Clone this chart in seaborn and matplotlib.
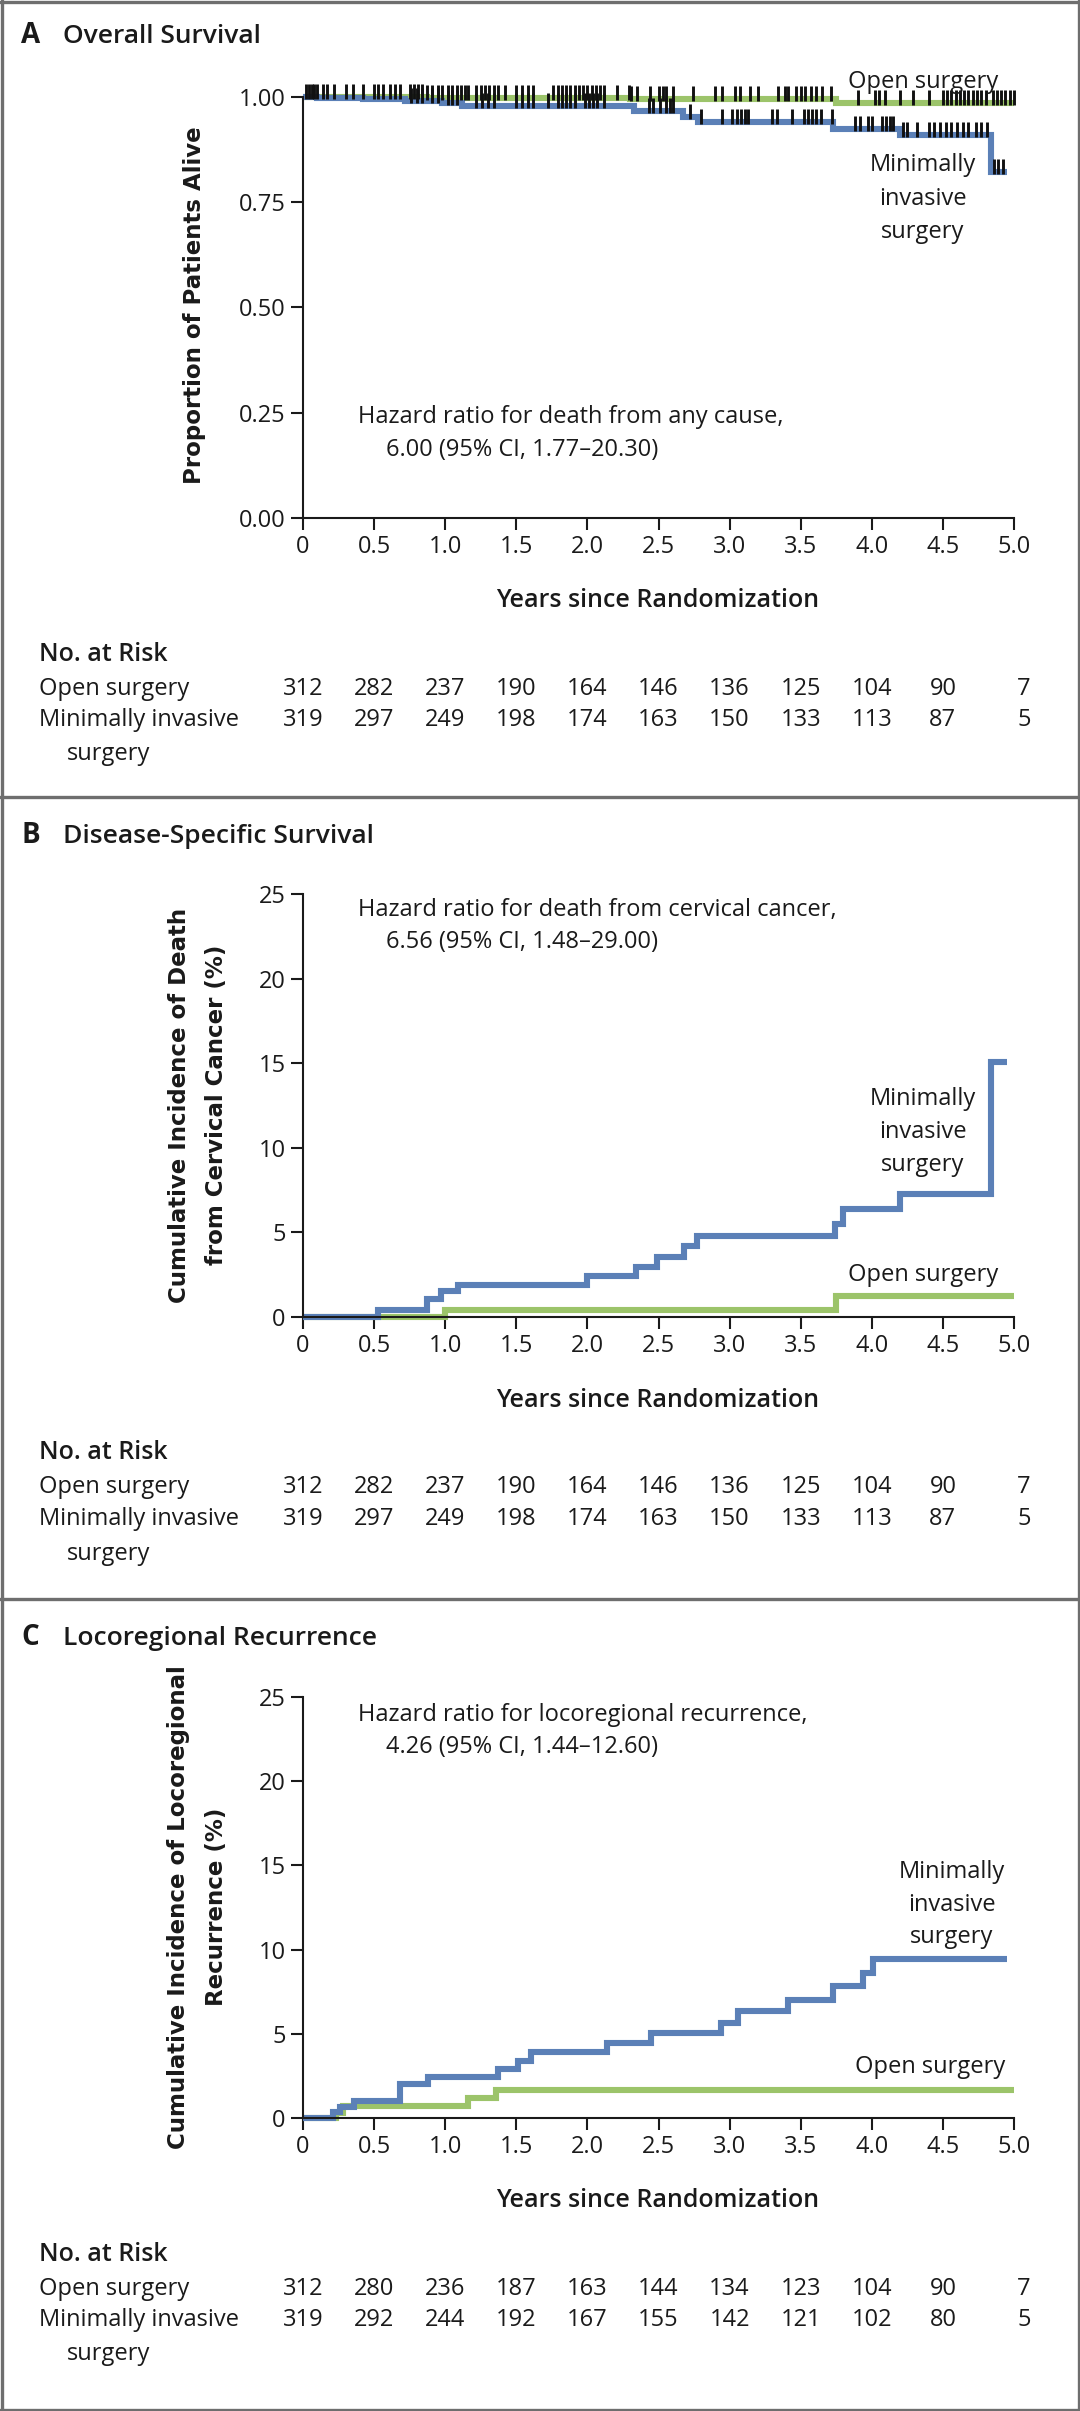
import numpy as np
import matplotlib
matplotlib.use("Agg")
import matplotlib.pyplot as plt
import seaborn as sns
from matplotlib.lines import Line2D

# ---- data ----
years = [0, 0.5, 1.0, 1.5, 2.0, 2.5, 3.0, 3.5, 4.0, 4.5, 5.0]
year_labels = ["0", "0.5", "1.0", "1.5", "2.0", "2.5", "3.0", "3.5", "4.0", "4.5", "5.0"]

# A: overall survival (Kaplan-Meier)
os_open_t = [0, 0.87, 2.30, 3.75, 5.0]
os_open_s = [1.0, 0.998, 0.994, 0.984, 0.984]
os_mis_t = [0, 0.10, 0.42, 0.72, 0.98, 1.12, 2.33, 2.67, 2.78, 3.73, 4.20, 4.84, 4.95]
os_mis_s = [1.0, 0.998, 0.995, 0.990, 0.985, 0.978, 0.966, 0.953, 0.940, 0.923, 0.909, 0.821, 0.821]
os_open_cens = [0.02, 0.04, 0.06, 0.08, 0.10, 0.14, 0.17, 0.22, 0.30, 0.35, 0.42, 0.50, 0.53,
                0.56, 0.61, 0.65, 0.68, 0.75, 0.78, 0.81, 0.84, 0.87, 0.91, 0.95, 0.98, 1.02,
                1.05, 1.08, 1.11, 1.14, 1.16, 1.22, 1.25, 1.28, 1.31, 1.34, 1.37, 1.42, 1.50,
                1.54, 1.58, 1.62, 1.76, 1.79, 1.82, 1.85, 1.88, 1.91, 1.94, 1.97, 2.00, 2.03,
                2.06, 2.09, 2.12, 2.21, 2.29, 2.31, 2.35, 2.44, 2.50, 2.53, 2.55, 2.60, 2.74,
                2.90, 2.95, 3.04, 3.07, 3.14, 3.20, 3.34, 3.39, 3.41, 3.47, 3.50, 3.53, 3.57,
                3.61, 3.65, 3.71, 3.90, 4.02, 4.05, 4.09, 4.20, 4.29, 4.40, 4.50, 4.53, 4.56,
                4.59, 4.62, 4.65, 4.68, 4.71, 4.74, 4.77, 4.80, 4.85, 4.88, 4.91, 4.94, 4.97,
                5.00]
os_mis_cens = [0.76, 0.80, 0.84, 0.91, 0.95, 1.02, 1.05, 1.08, 1.22, 1.26, 1.30, 1.34, 1.50,
               1.54, 1.58, 1.62, 1.72, 1.79, 1.82, 1.85, 1.88, 1.91, 1.98, 2.01, 2.04, 2.07,
               2.12, 2.43, 2.46, 2.51, 2.55, 2.58, 2.60, 2.72, 2.80, 2.95, 3.02, 3.05, 3.08,
               3.11, 3.13, 3.30, 3.33, 3.44, 3.52, 3.55, 3.58, 3.61, 3.64, 3.72, 3.88, 3.92,
               3.97, 4.00, 4.07, 4.10, 4.13, 4.15, 4.22, 4.25, 4.32, 4.40, 4.44, 4.48, 4.52,
               4.56, 4.60, 4.64, 4.68, 4.73, 4.77, 4.81, 4.86, 4.89, 4.92]

# B: cumulative incidence of death from cervical cancer (%)
dss_open_t = [0, 1.00, 3.75, 5.0]
dss_open_y = [0, 0.4, 1.27, 1.27]
dss_mis_t = [0, 0.53, 0.87, 0.97, 1.09, 2.00, 2.34, 2.49, 2.68, 2.77, 3.74, 3.80, 4.20, 4.84, 4.95]
dss_mis_y = [0, 0.4, 1.08, 1.53, 1.92, 2.45, 2.98, 3.57, 4.18, 4.80, 5.50, 6.37, 7.25, 15.1, 15.1]

# C: cumulative incidence of locoregional recurrence (%)
lrr_open_t = [0, 0.23, 0.28, 1.16, 1.36, 5.0]
lrr_open_y = [0, 0.3, 0.69, 1.18, 1.67, 1.67]
lrr_mis_t = [0, 0.21, 0.26, 0.36, 0.68, 0.88, 1.37, 1.51, 1.60, 2.14, 2.45, 2.94, 3.06, 3.41,
             3.73, 3.94, 4.01, 4.95]
lrr_mis_y = [0, 0.33, 0.65, 0.98, 2.02, 2.41, 2.92, 3.41, 3.92, 4.47, 5.04, 5.65, 6.33, 7.02,
             7.84, 8.6, 9.47, 9.47]

# numbers at risk
risk_open_ab = [312, 282, 237, 190, 164, 146, 136, 125, 104, 90, 7]
risk_mis_ab = [319, 297, 249, 198, 174, 163, 150, 133, 113, 87, 5]
risk_open_c = [312, 280, 236, 187, 163, 144, 134, 123, 104, 90, 7]
risk_mis_c = [319, 292, 244, 192, 167, 155, 142, 121, 102, 80, 5]

BLUE = "#5b80b7"
GREEN = "#9cc46a"
INK = "#1a1a1a"
W, H = 1080, 2411

sns.set_theme(style="ticks")
plt.rcParams["font.family"] = ["Open Sans", "DejaVu Sans"]
plt.rcParams["text.color"] = INK

fig = plt.figure(figsize=(W / 100, H / 100), dpi=100)
fig.patch.set_facecolor("white")


def fx(px):
    return px / W


def fy(py):
    return 1 - py / H


def step_at(t, s, times):
    idx = np.searchsorted(np.asarray(t), np.asarray(times), side="right") - 1
    return np.asarray(s)[np.clip(idx, 0, len(s) - 1)]


def make_axes(top_px, bottom_px):
    ax = fig.add_axes([fx(303), fy(bottom_px), fx(1014) - fx(303), (bottom_px - top_px) / H])
    ax.set_facecolor("none")
    sns.despine(ax=ax)
    for sp in ("left", "bottom"):
        ax.spines[sp].set_linewidth(1.5)
        ax.spines[sp].set_color(INK)
    ax.tick_params(direction="out", length=8.5, width=1.5, labelsize=17, pad=4,
                   colors=INK)
    ax.set_xlim(0, 5)
    ax.set_xticks(years)
    ax.set_xticklabels(year_labels)
    ax.set_xlabel("")
    ax.set_ylabel("")
    return ax


def curve(ax, t, y, color):
    sns.lineplot(x=t, y=y, ax=ax, color=color, linewidth=4.4, drawstyle="steps-post",
                 estimator=None, sort=False, clip_on=False, solid_capstyle="butt",
                 solid_joinstyle="miter")


def panel_text(letter, title, top, xlab_y, risk_y, ylab_lines, ylab_y, open_risk, mis_risk):
    fig.text(fx(21), fy(top + 10), letter, fontsize=20, weight="bold", va="baseline")
    fig.text(fx(63), fy(top + 10), title, fontsize=19, weight="semibold", va="baseline")
    fig.text(fx(658), fy(xlab_y + 9), "Years since Randomization", fontsize=18,
             weight="semibold", ha="center", va="baseline")
    if len(ylab_lines) == 1:
        fig.text(fx(195), fy(ylab_y), ylab_lines[0], rotation=90, ha="center", va="center",
                 fontsize=16.5, weight="bold", family="DejaVu Sans")
    else:
        for xx, line in zip((179, 217), ylab_lines):
            fig.text(fx(xx), fy(ylab_y), line, rotation=90, ha="center", va="center",
                     fontsize=16.5, weight="bold", family="DejaVu Sans")
    h, r1, r2, r3 = risk_y
    fig.text(fx(39), fy(h + 9), "No. at Risk", fontsize=18, weight="semibold", va="baseline")
    fig.text(fx(39), fy(r1 + 8), "Open surgery", fontsize=17, va="baseline")
    fig.text(fx(39), fy(r2 + 8), "Minimally invasive", fontsize=17, va="baseline")
    fig.text(fx(67), fy(r3 + 8), "surgery", fontsize=17, va="baseline")
    for i, (yr, a, b) in enumerate(zip(years, open_risk, mis_risk)):
        xpix = 303 + yr * 142.2 + (10 if i == len(years) - 1 else 0)
        fig.text(fx(xpix), fy(r1 + 8), str(a), fontsize=17, ha="center", va="baseline")
        fig.text(fx(xpix), fy(r2 + 8), str(b), fontsize=17, ha="center", va="baseline")


def label_lines(xc, baselines, lines):
    for b, line in zip(baselines, lines):
        fig.text(fx(xc), fy(b), line, fontsize=17, ha="center", va="baseline")


# ---------------- Panel A ----------------
axA = make_axes(96.7, 518)
curve(axA, os_open_t, os_open_s, GREEN)
curve(axA, os_mis_t, os_mis_s, BLUE)
cens_marker = [(0, -0.15), (0, 1.0)]
for times, t, s in ((os_open_cens, os_open_t, os_open_s), (os_mis_cens, os_mis_t, os_mis_s)):
    sns.scatterplot(x=times, y=step_at(t, s, times), ax=axA, marker=cens_marker, s=19 ** 2,
                    linewidth=2.1, edgecolor="#111111", color="#111111", clip_on=False,
                    zorder=5, legend=False)
axA.set_ylim(0, 1.0)
axA.set_yticks([0, 0.25, 0.5, 0.75, 1.0])
axA.set_yticklabels(["0.00", "0.25", "0.50", "0.75", "1.00"])
panel_text("A", "Overall Survival", 33, 598, (652, 687, 718, 752),
           ["Proportion of Patients Alive"], 305, risk_open_ab, risk_mis_ab)
fig.text(fx(358), fy(423), "Hazard ratio for death from any cause,", fontsize=17)
fig.text(fx(386), fy(456), "6.00 (95% CI, 1.77\u201320.30)", fontsize=17)
label_lines(923, [88], ["Open surgery"])
label_lines(923, [171, 205, 238], ["Minimally", "invasive", "surgery"])

# ---------------- Panel B ----------------
axB = make_axes(894, 1317)
curve(axB, dss_open_t, dss_open_y, GREEN)
curve(axB, dss_mis_t, dss_mis_y, BLUE)
axB.set_ylim(0, 25)
axB.set_yticks([0, 5, 10, 15, 20, 25])
panel_text("B", "Disease-Specific Survival", 833, 1398, (1450, 1485, 1517, 1552),
           ["Cumulative Incidence of Death", "from Cervical Cancer (%)"], 1105,
           risk_open_ab, risk_mis_ab)
fig.text(fx(358), fy(916), "Hazard ratio for death from cervical cancer,", fontsize=17)
fig.text(fx(386), fy(948), "6.56 (95% CI, 1.48\u201329.00)", fontsize=17)
label_lines(923, [1105, 1138, 1171], ["Minimally", "invasive", "surgery"])
label_lines(923, [1281], ["Open surgery"])

# ---------------- Panel C ----------------
axC = make_axes(1697, 2118)
curve(axC, lrr_open_t, lrr_open_y, GREEN)
curve(axC, lrr_mis_t, lrr_mis_y, BLUE)
axC.set_ylim(0, 25)
axC.set_yticks([0, 5, 10, 15, 20, 25])
panel_text("C", "Locoregional Recurrence", 1635, 2198, (2252, 2287, 2318, 2352),
           ["Cumulative Incidence of Locoregional", "Recurrence (%)"], 1907,
           risk_open_c, risk_mis_c)
fig.text(fx(358), fy(1721), "Hazard ratio for locoregional recurrence,", fontsize=17)
fig.text(fx(386), fy(1753), "4.26 (95% CI, 1.44\u201312.60)", fontsize=17)
label_lines(952, [1878, 1911, 1943], ["Minimally", "invasive", "surgery"])
label_lines(930, [2073], ["Open surgery"])

# ---------------- panel frames ----------------
frame = dict(color="#6e6e6e", linewidth=2.4, transform=fig.transFigure)
for yy in (1.5, 797, 1599, 2409.5):
    fig.add_artist(Line2D([0, 1], [fy(yy), fy(yy)], **frame))
for xx in (1.5, 1078.5):
    fig.add_artist(Line2D([fx(xx), fx(xx)], [0, 1], **frame))

fig.savefig("out.png", dpi=100, facecolor="white")
